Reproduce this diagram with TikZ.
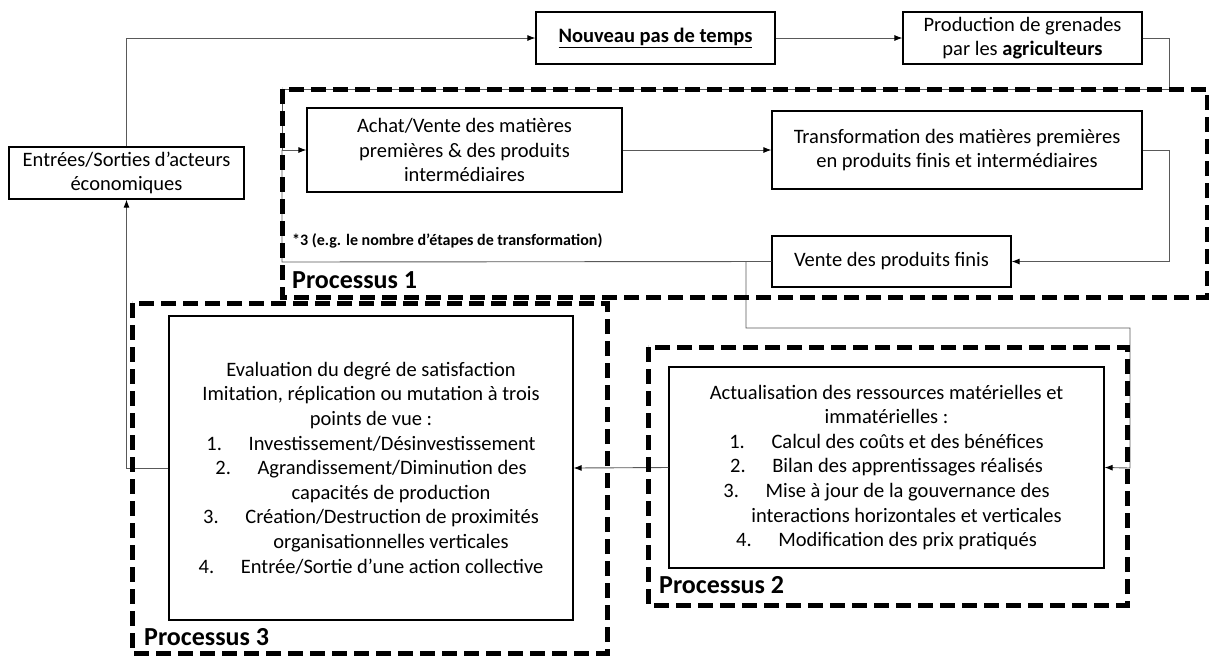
\documentclass[tikz,border=0pt]{standalone}
\usepackage{fontspec}
\setmainfont{Carlito}
\usetikzlibrary{arrows.meta}
\tikzset{
 box/.style={draw=black, line width=1.2pt, fill=white, align=center, inner sep=0pt, font=\fontsize{20.5}{24.6}\selectfont},
 conn/.style={draw=black!65, line width=0.9pt},
 arr/.style={conn, -{Latex[length=8pt,width=6pt,color=black]}},
 proc/.style={draw=black, line width=5pt, dash pattern=on 15pt off 7pt},
 plabel/.style={font=\fontsize{26}{30}\selectfont\bfseries, anchor=west, inner sep=0pt},
 note/.style={font=\fontsize{16}{19}\selectfont\bfseries, anchor=west, inner sep=0pt},
}
\begin{document}
\begin{tikzpicture}[x=1pt,y=-1pt]
\useasboundingbox (0,0) rectangle (1209,657);
% boxes
\node[box, minimum width=239pt, minimum height=52pt] (nouveau) at (655.5,38) {\underline{\textbf{Nouveau pas de temps}}};
\node[box, minimum width=239pt, minimum height=52pt] (prod) at (1022.5,38) {Production de grenades\\par les \textbf{agriculteurs}};
\node[box, minimum width=235pt, minimum height=52pt] (entrees) at (126.5,173) {Entrées/Sorties d’acteurs\\économiques};
\node[box, minimum width=315pt, minimum height=84pt] (achat) at (464.5,150) {Achat/Vente des matières\\premières \& des produits\\intermédiaires};
\node[box, minimum width=370pt, minimum height=78pt] (transf) at (957,150) {Transformation des matières premières\\en produits finis et intermédiaires};
\node[box, minimum width=239pt, minimum height=51pt] (vente) at (891.5,261.5) {Vente des produits finis};
\node[box, minimum width=404pt, minimum height=304pt] (eval) at (371,468) {Evaluation du degré de satisfaction\\
Imitation, réplication ou mutation à trois\\
points de vue :\\
1.\hspace{1.3em}Investissement/Désinvestissement\\
2.\hspace{1.3em}Agrandissement/Diminution des\\
\hspace*{40pt}capacités de production\\
3.\hspace{1.3em}Création/Destruction de proximités\\
\hspace*{40pt}organisationnelles verticales\\
4.\hspace{1.3em}Entrée/Sortie d’une action collective};
\node[box, minimum width=435pt, minimum height=201pt] (actu) at (886.5,467.5) {Actualisation des ressources matérielles et\\
immatérielles :\\
1.\hspace{1.3em}Calcul des coûts et des bénéfices\\
2.\hspace{1.3em}Bilan des apprentissages réalisés\\
3.\hspace{1.3em}Mise à jour de la gouvernance des\\
\hspace*{40pt}interactions horizontales et verticales\\
4.\hspace{1.3em}Modification des prix pratiqués};
% helper coordinates
\coordinate (pr1) at (1169,38);
\coordinate (pr2) at (1169,89);
\coordinate (lt1) at (282,89);
\coordinate (lt2) at (282,150);
\coordinate (lb) at (282,262);
\coordinate (tr) at (1169,150);
\coordinate (sp) at (746,262);
\coordinate (sp2) at (746,328);
\coordinate (sp3) at (1130,328);
\coordinate (sp4) at (1130,468);
\coordinate (ev) at (126.5,468);
% connectors
\draw[arr] (entrees.north) |- (nouveau.west);
\draw[arr] (nouveau.east) -- (prod.west);
\draw[conn] (prod.east) -- (pr1) -- (pr2) -- (lt1) -- (lt2);
\draw[arr] (lt2) -- (achat.west);
\draw[arr] (achat.east) -- (transf.west);
\draw[arr] (transf.east) -- (tr) |- (vente.east);
\draw[conn] (vente.west) -- (lb) -- (lt2);
\draw[arr] (sp) -- (sp2) -- (sp3) -- (sp4) -- (actu.east);
\draw[arr] (actu.west) -- (eval.east);
\draw[arr] (eval.west) -- (ev) -- (entrees.south);
% process frames
\draw[proc] (282,89) rectangle (1207,297);
\draw[proc] (132,303) rectangle (607,653);
\draw[proc] (648,347) rectangle (1127,605);
\node[note] (n3) at (292,241) {*3 (e.g. le nombre d’étapes de transformation)};
\node[plabel] (p1) at (292,280) {Processus 1};
\node[plabel] (p2) at (659,585) {Processus 2};
\node[plabel] (p3) at (144,637) {Processus 3};
\end{tikzpicture}
\end{document}
